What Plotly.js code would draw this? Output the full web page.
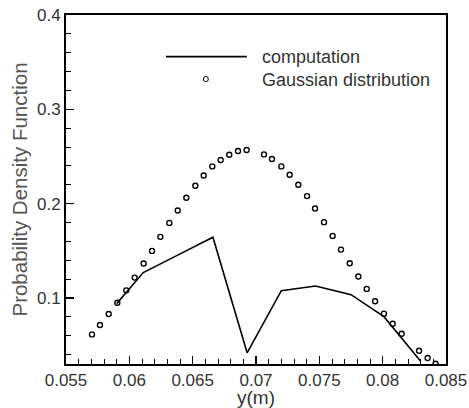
<!DOCTYPE html>
<html>
<head>
<meta charset="utf-8">
<script src="https://cdn.plot.ly/plotly-3.0.1.min.js"></script>
<style>html,body{margin:0;padding:0;background:#fff}#chart{width:469px;height:408px}</style>
</head>
<body>
<div id="chart"></div>
<script>
// Computation (solid line)
var compX = [0.0590, 0.0611, 0.0637, 0.0666, 0.0693, 0.0720, 0.0747, 0.0775, 0.0801, 0.0830];
var compY = [0.0940, 0.1269, 0.1446, 0.1644, 0.0419, 0.1078, 0.1127, 0.1035, 0.0802, 0.0330];

// Gaussian distribution (open circles)
var gaussX = [0.05705, 0.05768, 0.05837, 0.05905, 0.05976, 0.06042, 0.06113, 0.06179, 0.06245, 0.06316,
              0.06382, 0.06450, 0.06521, 0.06587, 0.06655, 0.06721, 0.06789, 0.06858, 0.06926,
              0.07063, 0.07126, 0.07200, 0.07266, 0.07334, 0.07403, 0.07466, 0.07537, 0.07605,
              0.07671, 0.07740, 0.07808, 0.07874, 0.07940, 0.08010, 0.08079, 0.08150,
              0.08287, 0.08355, 0.08418];
var gaussY = [0.0614, 0.0713, 0.0830, 0.0950, 0.1081, 0.1216, 0.1365, 0.1499, 0.1648, 0.1796,
              0.1927, 0.2062, 0.2189, 0.2299, 0.2395, 0.2462, 0.2519, 0.2558, 0.2568,
              0.2522, 0.2473, 0.2395, 0.2306, 0.2200, 0.2080, 0.1949, 0.1804, 0.1658,
              0.1513, 0.1368, 0.1227, 0.1096, 0.0965, 0.0834, 0.0727, 0.0621,
              0.0441, 0.0363, 0.0303];

var legendNames = ["computation", "Gaussian distribution"];
var axisTitles = {x: "y(m)", y: "Probability Density Function"};

var fontFam = "Liberation Sans, Arial, sans-serif";

var traces = [
  {x: compX, y: compY, mode: "lines", name: legendNames[0],
   line: {color: "#000", width: 1.6}, showlegend: false},
  {x: gaussX, y: gaussY, mode: "markers", name: legendNames[1],
   marker: {symbol: "circle-open", size: 5, color: "#000", line: {width: 1.4, color: "#000"}},
   showlegend: false}
];

var layout = {
  width: 469, height: 408,
  margin: {l: 66, r: 23, t: 15, b: 44},
  paper_bgcolor: "#fff", plot_bgcolor: "#fff",
  font: {family: fontFam, size: 18, color: "#333"},
  showlegend: false,
  xaxis: {
    range: [0.055, 0.085], dtick: 0.005, tick0: 0.055,
    showgrid: false, zeroline: false,
    showline: true, linecolor: "#000", linewidth: 2, mirror: true,
    ticks: "inside", ticklen: 8, tickwidth: 1.5, tickcolor: "#000",
    tickfont: {size: 17, color: "#333"},
    minor: {dtick: 0.001, ticks: "inside", ticklen: 5, tickwidth: 1, tickcolor: "#000", showgrid: false},
    title: {text: axisTitles.x, font: {size: 19, color: "#333"}, standoff: 0}
  },
  yaxis: {
    range: [0.03, 0.4], dtick: 0.1, tick0: 0,
    showgrid: false, zeroline: false,
    showline: true, linecolor: "#000", linewidth: 2, mirror: true,
    ticks: "inside", ticklen: 8, tickwidth: 1.5, tickcolor: "#000",
    tickfont: {size: 17, color: "#333"},
    minor: {dtick: 0.02, ticks: "inside", ticklen: 5, tickwidth: 1, tickcolor: "#000", showgrid: false},
    title: {text: axisTitles.y, font: {size: 20.5, color: "#555"}, standoff: 4}
  },
  shapes: [
    {type: "line", xref: "paper", yref: "paper", x0: 0.263, x1: 0.476, y0: 0.881, y1: 0.881,
     line: {color: "#000", width: 1.8}},
    {type: "circle", xref: "paper", yref: "paper", x0: 0.3615, x1: 0.3745, y0: 0.809, y1: 0.824,
     line: {color: "#000", width: 1}}
  ],
  annotations: [
    {xref: "paper", yref: "paper", x: 0.51, y: 0.879, xanchor: "left", yanchor: "middle",
     text: legendNames[0], showarrow: false, font: {size: 18, color: "#333"}},
    {xref: "paper", yref: "paper", x: 0.51, y: 0.814, xanchor: "left", yanchor: "middle",
     text: legendNames[1], showarrow: false, font: {size: 18, color: "#333"}}
  ]
};

Plotly.newPlot("chart", traces, layout, {displayModeBar: false, staticPlot: true});
</script>
</body>
</html>
